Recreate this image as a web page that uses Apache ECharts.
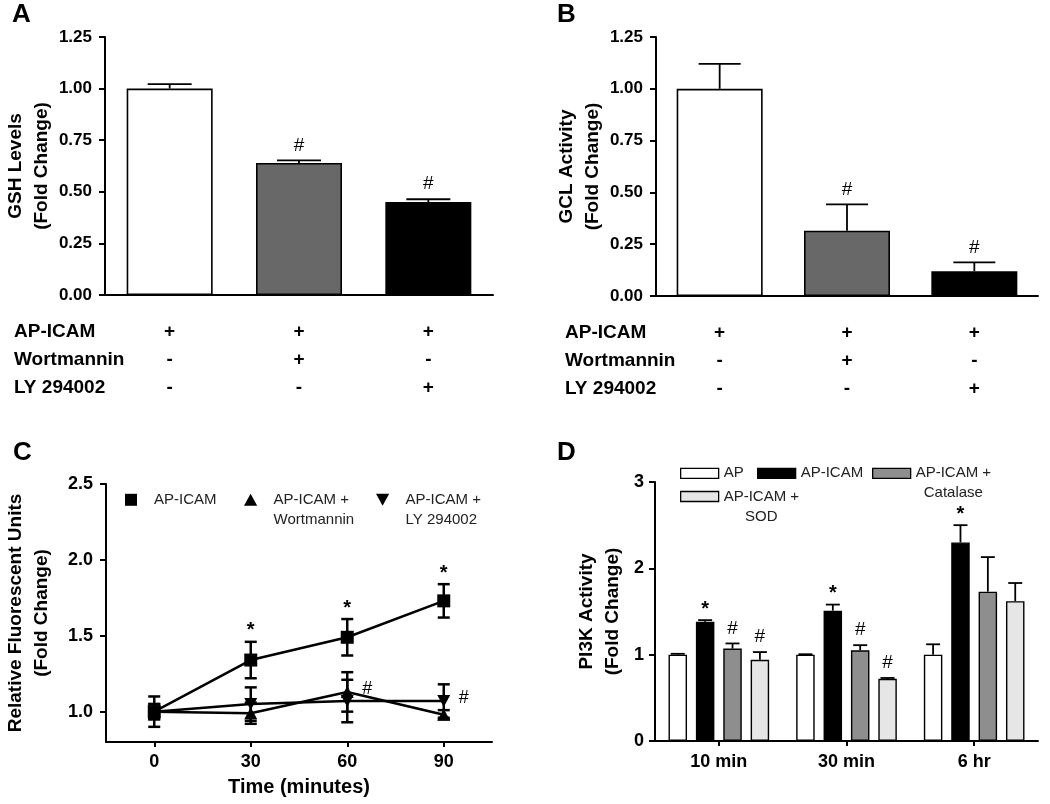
<!DOCTYPE html>
<html><head><meta charset="utf-8">
<script src="https://cdn.jsdelivr.net/npm/echarts@6/dist/echarts.min.js"></script>
<style>html,body{margin:0;padding:0;background:#fff}#c{width:1050px;height:804px}</style>
</head><body><div id="c"></div>
<script>
// ---------- Panel A / B ----------
const groupsAB = ['AP-ICAM', 'AP-ICAM + Wortmannin', 'AP-ICAM + LY 294002'];
const rowNames = ['AP-ICAM', 'Wortmannin', 'LY 294002'];
const rowApIcam = ['+', '+', '+'];
const rowWort = ['-', '+', '-'];
const rowLy = ['-', '-', '+'];
const gshValues = [1.00, 0.64, 0.45];
const gshErrors = [0.022, 0.012, 0.014];
const gshMarks = ['', '#', '#'];
const gclValues = [1.00, 0.315, 0.12];
const gclErrors = [0.12, 0.127, 0.042];
const gclMarks = ['', '#', '#'];
const barColorsAB = ['#ffffff', '#686868', '#000000'];
const yTicksAB = [0, 0.25, 0.5, 0.75, 1.0, 1.25];

// ---------- Panel C ----------
const timeMin = [0, 30, 60, 90];
const seriesCNames = ['AP-ICAM', 'AP-ICAM +\nWortmannin', 'AP-ICAM +\nLY 294002'];
const rfuApIcam = [1.00, 1.34, 1.49, 1.73];
const rfuApIcamErr = [0.10, 0.12, 0.12, 0.11];
const rfuApIcamMarks = ['', '*', '*', '*'];
const rfuWort = [1.00, 0.99, 1.13, 0.98];
const rfuWortErr = [0.05, 0.07, 0.13, 0.03];
const rfuWortMarks = ['', '', '#', ''];
const rfuLy = [1.00, 1.05, 1.07, 1.07];
const rfuLyErr = [0.05, 0.11, 0.14, 0.11];
const rfuLyMarks = ['', '', '', '#'];
const yTicksC = [1.0, 1.5, 2.0, 2.5];

// ---------- Panel D ----------
const timesD = ['10 min', '30 min', '6 hr'];
const seriesDNames = ['AP', 'AP-ICAM', 'AP-ICAM +\nCatalase', 'AP-ICAM +\nSOD'];
const pi3kAp = [1.00, 1.00, 1.00];
const pi3kApErr = [0.01, 0.005, 0.12];
const pi3kApMarks = ['', '', ''];
const pi3kApIcam = [1.38, 1.51, 2.30];
const pi3kApIcamErr = [0.02, 0.07, 0.20];
const pi3kApIcamMarks = ['*', '*', '*'];
const pi3kCat = [1.07, 1.05, 1.73];
const pi3kCatErr = [0.06, 0.06, 0.40];
const pi3kCatMarks = ['#', '#', ''];
const pi3kSod = [0.94, 0.72, 1.62];
const pi3kSodErr = [0.09, 0.01, 0.21];
const pi3kSodMarks = ['#', '#', ''];
const colorsD = ['#ffffff', '#000000', '#8e8e8e', '#e6e6e6'];
const yTicksD = [0, 1, 2, 3];

const FF = "'Liberation Sans', Arial, Helvetica, sans-serif";
const chart = echarts.init(document.getElementById('c'), null, {renderer: 'canvas'});

const axisLineStyle = {color: '#000', width: 2};

function barErrRender(offset, capHalf, marks) {
  return function (params, api) {
    const i = api.value(0), v = api.value(1), e = api.value(2);
    const p0 = api.coord([i, v]);
    const p1 = api.coord([i, v + e]);
    const x = p0[0] + offset;
    const st = {stroke: '#000', lineWidth: 1.8};
    const children = [
      {type: 'line', shape: {x1: x, y1: p0[1], x2: x, y2: p1[1]}, style: st},
      {type: 'line', shape: {x1: x - capHalf, y1: p1[1], x2: x + capHalf, y2: p1[1]}, style: st}
    ];
    const m = marks[params.dataIndex];
    if (m) {
      children.push({type: 'text', x: x, y: p1[1] - (m === '*' ? 11 : 15),
        style: {text: m, fill: '#000', fontFamily: FF, fontSize: m === '*' ? 20 : 19,
          fontWeight: m === '*' ? 'bold' : 'normal', align: 'center', verticalAlign: 'middle'}});
    }
    return {type: 'group', children: children};
  };
}

function lineErrRender(capHalf, marks) {
  return function (params, api) {
    const t = api.value(0), v = api.value(1), e = api.value(2);
    const pc = api.coord([t, v]);
    const pt = api.coord([t, v + e]);
    const pb = api.coord([t, v - e]);
    const x = pc[0];
    const st = {stroke: '#000', lineWidth: 2.5};
    const children = [
      {type: 'line', shape: {x1: x, y1: pt[1], x2: x, y2: pb[1]}, style: st},
      {type: 'line', shape: {x1: x - capHalf, y1: pt[1], x2: x + capHalf, y2: pt[1]}, style: st},
      {type: 'line', shape: {x1: x - capHalf, y1: pb[1], x2: x + capHalf, y2: pb[1]}, style: st}
    ];
    const m = marks[params.dataIndex];
    if (m === '*') {
      children.push({type: 'text', x: x, y: pt[1] - 11,
        style: {text: m, fill: '#000', fontFamily: FF, fontSize: 20, fontWeight: 'bold', align: 'center', verticalAlign: 'middle'}});
    } else if (m) {
      children.push({type: 'text', x: x + 20, y: pc[1] - 3,
        style: {text: m, fill: '#000', fontFamily: FF, fontSize: 18, align: 'center', verticalAlign: 'middle'}});
    }
    return {type: 'group', children: children};
  };
}

const richLeft = {
  e: {fontSize: 15, lineHeight: 20, fontFamily: FF},
  t: {fontSize: 15, lineHeight: 20, fontFamily: FF, color: '#222', align: 'left'}
};
const richCenter = {
  e: {fontSize: 15, lineHeight: 20, fontFamily: FF},
  t: {fontSize: 15, lineHeight: 20, fontFamily: FF, color: '#222', align: 'center'}
};
function legendFmt(name) {
  const lines = name.split('\n');
  if (lines.length > 1) return '{e| }\n' + lines.map(s => '{t|' + s + '}').join('\n');
  return '{t|' + name + '}';
}
function makeLegend(name, left, cy, w, h, icon, itemStyle, rich) {
  const n = name.split('\n').length;
  const nl = n > 1 ? n + 1 : 1;
  const top = Math.min(cy - h / 2, cy - nl * 20 / 2) + 3;
  return {
    left: left, top: top, padding: 0, orient: 'horizontal', selectedMode: false,
    itemWidth: w, itemHeight: h, symbolKeepAspect: true,
    data: [{name: name, icon: icon, itemStyle: itemStyle}],
    formatter: legendFmt,
    textStyle: {fontSize: 15, fontFamily: FF, color: '#222', rich: rich}
  };
}

const iconSquare = 'path://M0,0L10,0L10,10L0,10Z';
const iconUp = 'path://M5.5,0L11,10L0,10Z';
const iconDown = 'path://M0,0L11,0L5.5,10Z';
const cStyle = {color: '#000', borderWidth: 0};

const barWD = 18.5, barGapD = 0.48;
const stepD = barWD * (1 + barGapD);

const dVals = [pi3kAp, pi3kApIcam, pi3kCat, pi3kSod];
const dErrs = [pi3kApErr, pi3kApIcamErr, pi3kCatErr, pi3kSodErr];
const dMarks = [pi3kApMarks, pi3kApIcamMarks, pi3kCatMarks, pi3kSodMarks];

const series = [];
// C first
const cVals = [rfuApIcam, rfuWort, rfuLy];
const cErrs = [rfuApIcamErr, rfuWortErr, rfuLyErr];
const cMarks = [rfuApIcamMarks, rfuWortMarks, rfuLyMarks];
const cSymbols = ['rect', 'triangle', 'triangle'];
const cRot = [0, 0, 180];
cVals.forEach((vals, k) => {
  series.push({
    type: 'custom', xAxisIndex: 2, yAxisIndex: 2, silent: true, z: 2,
    data: timeMin.map((t, i) => [t, vals[i], cErrs[k][i]]),
    renderItem: lineErrRender(6, cMarks[k])
  });
  series.push({
    type: 'line', name: seriesCNames[k], xAxisIndex: 2, yAxisIndex: 2, silent: true, z: 3,
    data: timeMin.map((t, i) => [t, vals[i]]),
    symbol: cSymbols[k], symbolSize: k === 0 ? 13 : [13, 12], symbolRotate: cRot[k], showAllSymbol: true,
    lineStyle: {color: '#000', width: 2.5}, itemStyle: {color: '#000'}
  });
});
// A
series.push({
  type: 'bar', xAxisIndex: 0, yAxisIndex: 0, barWidth: 86, silent: true,
  data: gshValues.map((v, i) => ({value: v, itemStyle: {color: barColorsAB[i]}})),
  itemStyle: {borderColor: '#000', borderWidth: 1.6}
});
series.push({
  type: 'custom', xAxisIndex: 0, yAxisIndex: 0, silent: true, z: 3,
  data: gshValues.map((v, i) => [i, v, gshErrors[i]]),
  renderItem: barErrRender(0, 22, gshMarks)
});
// B
series.push({
  type: 'bar', xAxisIndex: 1, yAxisIndex: 1, barWidth: 86, silent: true,
  data: gclValues.map((v, i) => ({value: v, itemStyle: {color: barColorsAB[i]}})),
  itemStyle: {borderColor: '#000', borderWidth: 1.6}
});
series.push({
  type: 'custom', xAxisIndex: 1, yAxisIndex: 1, silent: true, z: 3,
  data: gclValues.map((v, i) => [i, v, gclErrors[i]]),
  renderItem: barErrRender(0, 21, gclMarks)
});
// D
dVals.forEach((vals, k) => {
  series.push({
    type: 'bar', name: seriesDNames[k], xAxisIndex: 3, yAxisIndex: 3, barWidth: barWD, barGap: (barGapD * 100) + '%',
    silent: true, data: vals,
    itemStyle: {color: colorsD[k], borderColor: '#000', borderWidth: 1.4}
  });
});
dVals.forEach((vals, k) => {
  series.push({
    type: 'custom', xAxisIndex: 3, yAxisIndex: 3, silent: true, z: 3,
    data: vals.map((v, i) => [i, v, dErrs[k][i]]),
    renderItem: barErrRender((k - 1.5) * stepD, 7, dMarks[k])
  });
});

const tickLab = {fontSize: 17, fontWeight: 'bold', fontFamily: FF, color: '#000'};
const nameStyle = {fontSize: 19, fontWeight: 'bold', fontFamily: FF, color: '#000', lineHeight: 26};

function abX(gi) {
  return {
    gridIndex: gi, type: 'category', data: groupsAB,
    axisLine: {lineStyle: axisLineStyle}, axisTick: {show: false},
    axisLabel: {interval: 0, margin: 23, lineHeight: 28, fontSize: 19, fontWeight: 'bold', fontFamily: FF, color: '#000',
      formatter: (v, i) => [rowApIcam[i], rowWort[i], rowLy[i]].join('\n')}
  };
}
function abY(gi, nm) {
  return {
    gridIndex: gi, type: 'value', min: yTicksAB[0], max: yTicksAB[yTicksAB.length - 1], interval: 0.25,
    axisLine: {show: true, lineStyle: axisLineStyle}, axisTick: {show: true, length: 6, lineStyle: {width: 2}},
    splitLine: {show: false},
    axisLabel: Object.assign({margin: 13, formatter: v => v.toFixed(2)}, tickLab),
    name: nm, nameLocation: 'middle', nameGap: 50, nameRotate: 90, nameTextStyle: nameStyle
  };
}

const option = {
  animation: false,
  backgroundColor: '#fff',
  grid: [
    {left: 105, top: 37, width: 388, height: 258},
    {left: 656, top: 37, width: 382, height: 259},
    {left: 106, top: 484, width: 386, height: 258},
    {left: 655, top: 482, width: 383, height: 259}
  ],
  xAxis: [
    abX(0), abX(1),
    {gridIndex: 2, type: 'value', min: -15, max: 105,
      axisLine: {onZero: false, lineStyle: axisLineStyle}, splitLine: {show: false},
      axisTick: {show: true, customValues: timeMin, length: 5, lineStyle: {width: 2}},
      axisLabel: {customValues: timeMin, margin: 11, fontSize: 18, fontWeight: 'bold', fontFamily: FF, color: '#000'},
      name: 'Time (minutes)', nameLocation: 'middle', nameGap: 35,
      nameTextStyle: {fontSize: 20, fontWeight: 'bold', fontFamily: FF, color: '#000'}},
    {gridIndex: 3, type: 'category', data: timesD,
      axisLine: {lineStyle: axisLineStyle},
      axisTick: {show: true, alignWithLabel: true, length: 5, lineStyle: {width: 2}},
      axisLabel: {margin: 12, fontSize: 18, fontWeight: 'bold', fontFamily: FF, color: '#000'}}
  ],
  yAxis: [
    abY(0, 'GSH Levels\n(Fold Change)'),
    abY(1, 'GCL Activity\n(Fold Change)'),
    {gridIndex: 2, type: 'value', min: 0.8, max: 2.5,
      axisLine: {show: true, onZero: false, lineStyle: axisLineStyle}, splitLine: {show: false},
      axisTick: {show: true, customValues: yTicksC, length: 6, lineStyle: {width: 2}},
      axisLabel: {customValues: yTicksC, margin: 13, formatter: v => v.toFixed(1), fontSize: 18, fontWeight: 'bold', fontFamily: FF, color: '#000'},
      name: 'Relative Fluorescent Units\n(Fold Change)', nameLocation: 'middle', nameGap: 51, nameRotate: 90, nameTextStyle: nameStyle},
    {gridIndex: 3, type: 'value', min: yTicksD[0], max: yTicksD[yTicksD.length - 1], interval: 1,
      axisLine: {show: true, lineStyle: axisLineStyle}, splitLine: {show: false},
      axisTick: {show: true, length: 6, lineStyle: {width: 2}},
      axisLabel: {margin: 11, fontSize: 18, fontWeight: 'bold', fontFamily: FF, color: '#000'},
      name: 'PI3K Activity\n(Fold Change)', nameLocation: 'middle', nameGap: 29, nameRotate: 90, nameTextStyle: nameStyle}
  ],
  legend: [
    makeLegend(seriesCNames[0], 125, 499.3, 36, 12, iconSquare, cStyle, richLeft),
    makeLegend(seriesCNames[1], 244, 499.3, 36, 12, iconUp, cStyle, richLeft),
    makeLegend(seriesCNames[2], 376, 499.3, 36, 12, iconDown, cStyle, richLeft),
    makeLegend(seriesDNames[0], 680, 472.8, 38, 10, 'rect', {color: colorsD[0], borderColor: '#000', borderWidth: 1.3}, richCenter),
    makeLegend(seriesDNames[1], 757, 472.8, 38, 10, 'rect', {color: colorsD[1], borderColor: '#000', borderWidth: 1.3}, richCenter),
    makeLegend(seriesDNames[2], 872, 472.8, 38, 10, 'rect', {color: colorsD[2], borderColor: '#000', borderWidth: 1.3}, richCenter),
    makeLegend(seriesDNames[3], 680, 496, 38, 10, 'rect', {color: colorsD[3], borderColor: '#000', borderWidth: 1.3}, richCenter)
  ],
  graphic: [
    {type: 'text', x: 12, y: 15, style: {text: 'A', fontSize: 26, fontWeight: 'bold', fontFamily: FF, fill: '#000', verticalAlign: 'middle'}},
    {type: 'text', x: 557, y: 15, style: {text: 'B', fontSize: 26, fontWeight: 'bold', fontFamily: FF, fill: '#000', verticalAlign: 'middle'}},
    {type: 'text', x: 13, y: 453, style: {text: 'C', fontSize: 26, fontWeight: 'bold', fontFamily: FF, fill: '#000', verticalAlign: 'middle'}},
    {type: 'text', x: 557, y: 453, style: {text: 'D', fontSize: 26, fontWeight: 'bold', fontFamily: FF, fill: '#000', verticalAlign: 'middle'}}
  ].concat(
    rowNames.map((r, i) => ({type: 'text', x: 14, y: 332 + i * 28, style: {text: r, fontSize: 19, fontWeight: 'bold', fontFamily: FF, fill: '#000', verticalAlign: 'middle'}})),
    rowNames.map((r, i) => ({type: 'text', x: 565, y: 333 + i * 28, style: {text: r, fontSize: 19, fontWeight: 'bold', fontFamily: FF, fill: '#000', verticalAlign: 'middle'}}))
  ),
  series: series
};
chart.setOption(option);
</script>
</body></html>
